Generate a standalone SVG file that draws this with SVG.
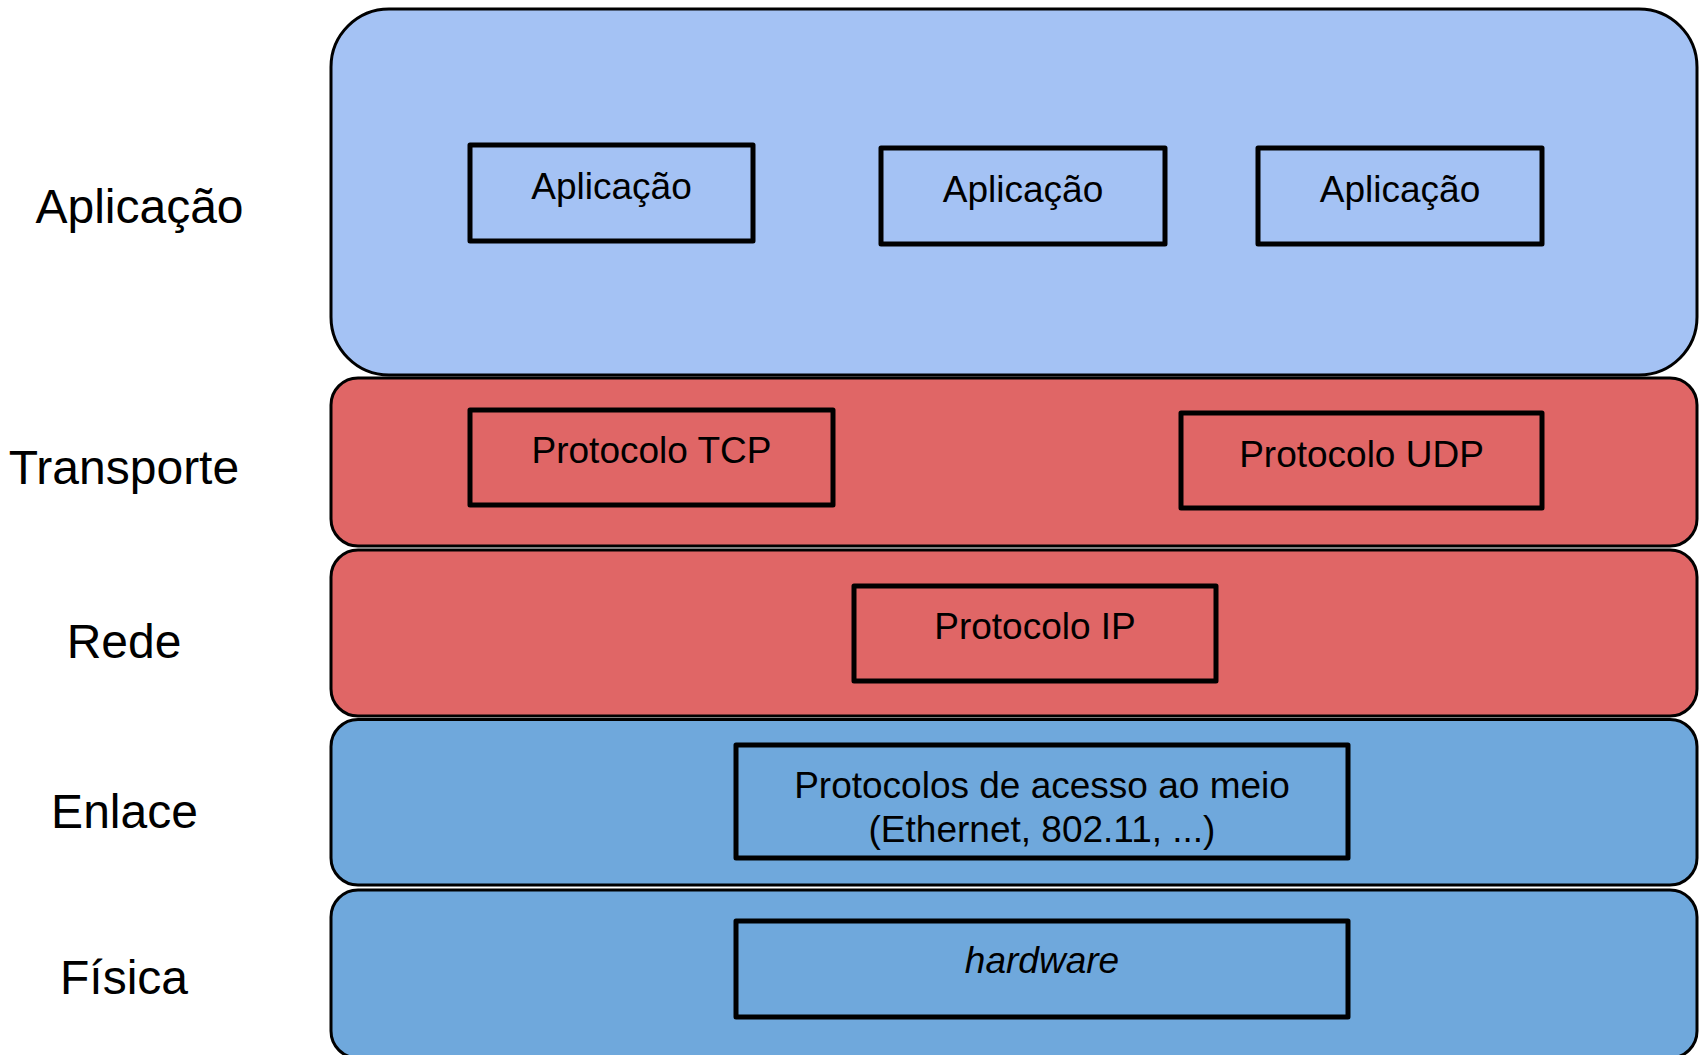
<svg xmlns="http://www.w3.org/2000/svg" width="1700" height="1055" viewBox="0 0 1700 1055">
  <style>
    .layer { stroke: #000; stroke-width: 3; }
    .app { fill: #a4c2f4; }
    .red { fill: #e06666; }
    .blue { fill: #6fa8dc; }
    .box { fill: none; stroke: #000; stroke-width: 5; stroke-linejoin: round; }
    text { font-family: "Liberation Sans", Arial, sans-serif; fill: #000; }
    .lbl { font-size: 48px; text-anchor: middle; }
    .in { font-size: 37px; text-anchor: middle; }
  </style>
  <rect width="1700" height="1055" fill="#fff"/>

  <!-- layer names -->
  <g id="labels">
    <text class="lbl" x="139.5" y="223">Aplicação</text>
    <text class="lbl" x="124" y="484">Transporte</text>
    <text class="lbl" x="124" y="658">Rede</text>
    <text class="lbl" x="124.5" y="828">Enlace</text>
    <text class="lbl" x="124" y="994">Física</text>
  </g>

  <!-- application layer -->
  <g id="layer-aplicacao">
    <rect class="layer app" x="331" y="9" width="1366" height="366" rx="58" ry="58"/>
    <g id="app-1">
      <rect class="box" x="470" y="145" width="283" height="96"/>
      <text class="in" x="611.5" y="199">Aplicação</text>
    </g>
    <g id="app-2">
      <rect class="box" x="881" y="148" width="284" height="96"/>
      <text class="in" x="1023" y="202">Aplicação</text>
    </g>
    <g id="app-3">
      <rect class="box" x="1258" y="148" width="284" height="96"/>
      <text class="in" x="1400" y="202">Aplicação</text>
    </g>
  </g>

  <!-- transport layer -->
  <g id="layer-transporte">
    <rect class="layer red" x="331" y="378" width="1366" height="168" rx="27" ry="27"/>
    <g id="tcp">
      <rect class="box" x="470" y="410" width="363" height="95"/>
      <text class="in" x="651.5" y="463">Protocolo TCP</text>
    </g>
    <g id="udp">
      <rect class="box" x="1181" y="413" width="361" height="95"/>
      <text class="in" x="1361.5" y="467">Protocolo UDP</text>
    </g>
  </g>

  <!-- network layer -->
  <g id="layer-rede">
    <rect class="layer red" x="331" y="550" width="1366" height="166" rx="27" ry="27"/>
    <g id="ip">
      <rect class="box" x="854" y="586" width="362" height="95"/>
      <text class="in" x="1035" y="639">Protocolo IP</text>
    </g>
  </g>

  <!-- link layer -->
  <g id="layer-enlace">
    <rect class="layer blue" x="331" y="719.5" width="1366" height="165.5" rx="27" ry="27"/>
    <g id="mac">
      <rect class="box" x="736" y="745" width="612" height="113"/>
      <text class="in" x="1042" y="798">Protocolos de acesso ao meio</text>
      <text class="in" x="1042" y="842">(Ethernet, 802.11, ...)</text>
    </g>
  </g>

  <!-- physical layer -->
  <g id="layer-fisica">
    <rect class="layer blue" x="331" y="890" width="1366" height="168" rx="27" ry="27"/>
    <g id="hw">
      <rect class="box" x="736" y="921" width="612" height="96"/>
      <text class="in" x="1042" y="973" font-style="italic">hardware</text>
    </g>
  </g>

  <!-- no connectors in this figure -->
  <g id="connectors"/>
</svg>
